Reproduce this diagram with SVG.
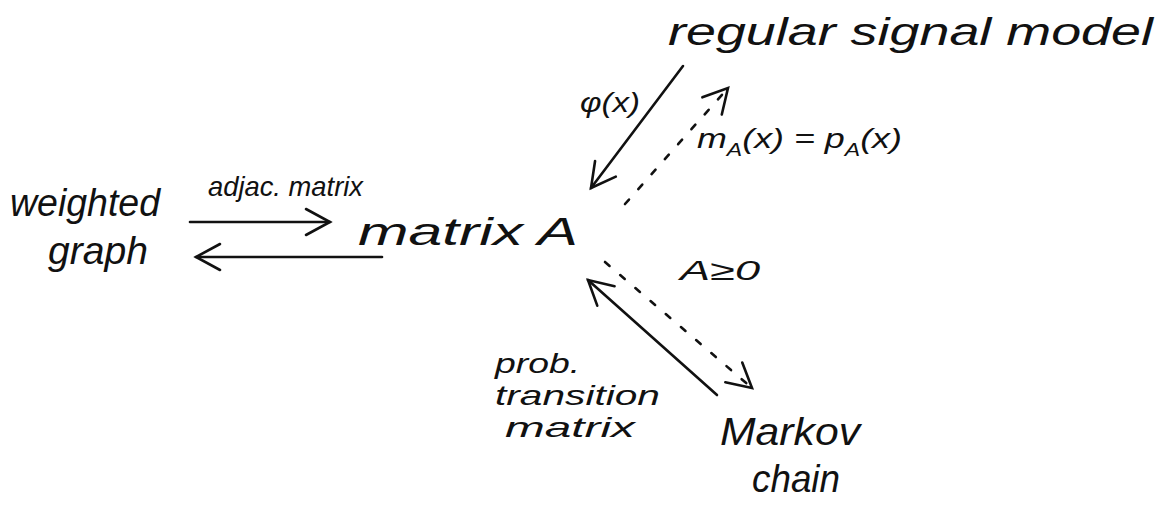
<svg xmlns="http://www.w3.org/2000/svg" width="1160" height="507" viewBox="0 0 1160 507">
<style>
text{font-family:"Liberation Sans",Arial,sans-serif;font-style:italic;fill:#111}
.big{font-size:38px}
.lbl{font-size:28px}
.ln{stroke:#111;stroke-width:2.6;fill:none;stroke-linecap:round}
.dash{stroke-dasharray:6 14}
</style>
<defs>
<marker id="headL" viewBox="0 0 32 32" refX="28" refY="16" markerWidth="32" markerHeight="32" markerUnits="userSpaceOnUse" orient="auto">
<path d="M4,3 L28,16 L4,29" fill="none" stroke="#111" stroke-width="2.6" stroke-linecap="round"/>
</marker>
</defs>
<rect width="1160" height="507" fill="#fff"/>
<g id="connectors">
<line class="ln" x1="190" y1="222" x2="330" y2="222" marker-end="url(#headL)"/>
<line class="ln" x1="382" y1="257" x2="196" y2="257" marker-end="url(#headL)"/>
<line class="ln" x1="683" y1="66" x2="591" y2="188" marker-end="url(#headL)"/>
<line class="ln dash" x1="625" y1="204" x2="728" y2="88" marker-end="url(#headL)"/>
<line class="ln" x1="717" y1="395" x2="588" y2="280" marker-end="url(#headL)"/>
<line class="ln dash" x1="605" y1="262" x2="752" y2="388" marker-end="url(#headL)"/>
</g>
<g id="labels">
<text class="lbl" x="208" y="196" textLength="155" lengthAdjust="spacingAndGlyphs">adjac. matrix</text>
<text class="lbl" x="580" y="112" textLength="60" lengthAdjust="spacingAndGlyphs">φ(x)</text>
<text class="lbl" x="697" y="148" textLength="205" lengthAdjust="spacingAndGlyphs">m<tspan font-size="18" dy="8">A</tspan><tspan dy="-8">(x) = p</tspan><tspan font-size="18" dy="8">A</tspan><tspan dy="-8">(x)</tspan></text>
<text class="lbl" x="680" y="280" font-size="32" textLength="80" lengthAdjust="spacingAndGlyphs">A≥0</text>
<text class="lbl" x="495" y="373" textLength="85" lengthAdjust="spacingAndGlyphs">prob.</text>
<text class="lbl" x="495" y="405" textLength="165" lengthAdjust="spacingAndGlyphs">transition</text>
<text class="lbl" x="505" y="437" textLength="130" lengthAdjust="spacingAndGlyphs">matrix</text>
</g>
<g id="node-weighted-graph">
<text class="big" x="10" y="216" textLength="150" lengthAdjust="spacingAndGlyphs">weighted</text>
<text class="big" x="48" y="264" textLength="100" lengthAdjust="spacingAndGlyphs">graph</text>
</g>
<g id="node-matrix-A">
<text class="big" x="358" y="245" textLength="220" lengthAdjust="spacingAndGlyphs">matrix A</text>
</g>
<g id="node-regular-signal-model">
<text class="big" x="668" y="45" textLength="485" lengthAdjust="spacingAndGlyphs">regular signal model</text>
</g>
<g id="node-markov-chain">
<text class="big" x="720" y="445" textLength="140" lengthAdjust="spacingAndGlyphs">Markov</text>
<text class="big" x="752" y="492" textLength="88" lengthAdjust="spacingAndGlyphs">chain</text>
</g>
</svg>
